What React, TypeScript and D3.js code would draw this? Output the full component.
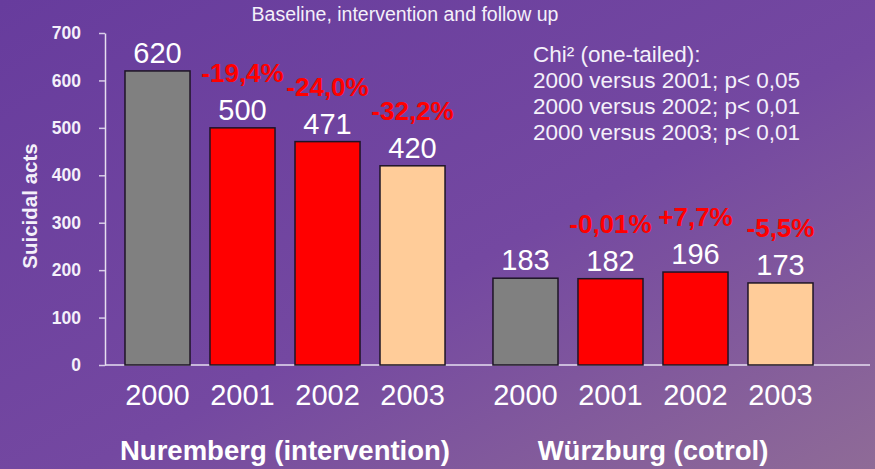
import React, { useEffect, useRef } from "react";
import * as d3 from "d3";

// data
const cities = ["Nuremberg (intervention)", "Würzburg (cotrol)"];
const years = ["2000", "2001", "2002", "2003"];
const nurembergValues = [620, 500, 471, 420];
const wurzburgValues = [183, 182, 196, 173];
const nurembergChange = ["", "-19,4%", "-24,0%", "-32,2%"];
const wurzburgChange = ["", "-0,01%", "+7,7%", "-5,5%"];
const yearColors = ["#808080", "#ff0000", "#ff0000", "#ffcc99"];
const yTicks = [0, 100, 200, 300, 400, 500, 600, 700];
const chiLines = [
  "Chi² (one-tailed):",
  "2000 versus 2001; p< 0,05",
  "2000 versus 2002; p< 0,01",
  "2000 versus 2003; p< 0,01",
];
const title = "Baseline, intervention and follow up";
const yTitle = "Suicidal acts";

const width = 875;
const height = 469;
const font = "Liberation Sans, Arial, sans-serif";

const App = () => {
  const ref = useRef<SVGSVGElement>(null);

  useEffect(() => {
    document.body.style.margin = "0";

    const svg = d3.select(ref.current);
    svg.selectAll("*").remove();

    // background gradient
    const defs = svg.append("defs");
    const grad = defs
      .append("linearGradient")
      .attr("id", "bg")
      .attr("x1", "0%")
      .attr("y1", "0%")
      .attr("x2", "100%")
      .attr("y2", "100%");
    grad.append("stop").attr("offset", "0%").attr("stop-color", "#673c9d");
    grad.append("stop").attr("offset", "55%").attr("stop-color", "#7448a1");
    grad.append("stop").attr("offset", "100%").attr("stop-color", "#8f6b97");
    svg
      .append("rect")
      .attr("width", width)
      .attr("height", height)
      .attr("fill", "url(#bg)");

    const y = d3.scaleLinear().domain([0, 700]).range([365, 33]);
    const xCity = d3.scaleBand().domain(cities).range([115, 823]).paddingInner(0.076);
    const xYear = d3
      .scaleBand()
      .domain(years)
      .range([0, xCity.bandwidth()])
      .paddingInner(0.235)
      .paddingOuter(0.1175);

    const rows = cities.flatMap((city, ci) =>
      years.map((year, yi) => ({
        city,
        year,
        color: yearColors[yi],
        value: ci === 0 ? nurembergValues[yi] : wurzburgValues[yi],
        change: ci === 0 ? nurembergChange[yi] : wurzburgChange[yi],
      }))
    );
    const cx = (d) => xCity(d.city) + xYear(d.year) + xYear.bandwidth() / 2;

    // title
    svg
      .append("text")
      .attr("x", 405)
      .attr("y", 21)
      .attr("text-anchor", "middle")
      .style("font-family", font)
      .style("font-size", "19.5px")
      .attr("fill", "#f4f0fa")
      .text(title);

    // y axis
    const yAxis = svg
      .append("g")
      .attr("transform", "translate(105,0)")
      .call(d3.axisLeft(y).tickValues(yTicks).tickSizeInner(6).tickSizeOuter(0).tickPadding(18));
    yAxis.select(".domain").attr("stroke", "#e6def0").attr("stroke-width", 1.5);
    yAxis.selectAll(".tick line").attr("stroke", "#d8cce8").attr("stroke-width", 1.5);
    yAxis
      .selectAll(".tick text")
      .attr("fill", "#f4f0fa")
      .style("font-family", font)
      .style("font-size", "17.5px")
      .style("font-weight", "bold");

    svg
      .append("text")
      .attr("transform", `translate(37,${206}) rotate(-90)`)
      .attr("text-anchor", "middle")
      .style("font-family", font)
      .style("font-size", "20.5px")
      .style("font-weight", "bold")
      .attr("fill", "#f4f0fa")
      .text(yTitle);

    // baseline
    svg
      .append("line")
      .attr("x1", 105)
      .attr("x2", 870)
      .attr("y1", y(0))
      .attr("y2", y(0))
      .attr("stroke", "#e6def0")
      .attr("stroke-width", 1.5);

    // bars
    svg
      .selectAll("rect.bar")
      .data(rows)
      .enter()
      .append("rect")
      .attr("class", "bar")
      .attr("x", (d) => xCity(d.city) + xYear(d.year))
      .attr("y", (d) => y(d.value))
      .attr("width", xYear.bandwidth())
      .attr("height", (d) => y(0) - y(d.value))
      .attr("fill", (d) => d.color)
      .attr("stroke", "#1e1426")
      .attr("stroke-width", 1.5);

    // value labels
    svg
      .selectAll("text.value")
      .data(rows)
      .enter()
      .append("text")
      .attr("class", "value")
      .attr("x", cx)
      .attr("y", (d) => y(d.value) - 8)
      .attr("text-anchor", "middle")
      .style("font-family", font)
      .style("font-size", "29px")
      .attr("fill", "#ffffff")
      .text((d) => d.value);

    // percent change labels
    svg
      .selectAll("text.change")
      .data(rows.filter((d) => d.change))
      .enter()
      .append("text")
      .attr("class", "change")
      .attr("x", cx)
      .attr("y", (d) => y(d.value) - 46)
      .attr("text-anchor", "middle")
      .style("font-family", font)
      .style("font-size", "26px")
      .style("font-weight", "bold")
      .attr("fill", "#ff0000")
      .text((d) => d.change);

    // year labels
    svg
      .selectAll("text.year")
      .data(rows)
      .enter()
      .append("text")
      .attr("class", "year")
      .attr("x", cx)
      .attr("y", 405)
      .attr("text-anchor", "middle")
      .style("font-family", font)
      .style("font-size", "29px")
      .attr("fill", "#ffffff")
      .text((d) => d.year);

    // city labels
    svg
      .selectAll("text.city")
      .data(cities)
      .enter()
      .append("text")
      .attr("class", "city")
      .attr("x", (d) => xCity(d) + xCity.bandwidth() / 2)
      .attr("y", 460)
      .attr("text-anchor", "middle")
      .style("font-family", font)
      .style("font-size", "27.5px")
      .style("font-weight", "bold")
      .attr("fill", "#ffffff")
      .text((d) => d);

    // chi-square note
    svg
      .append("text")
      .attr("x", 533)
      .attr("y", 62)
      .style("font-family", font)
      .style("font-size", "22.5px")
      .attr("fill", "#f4f0fa")
      .selectAll("tspan")
      .data(chiLines)
      .enter()
      .append("tspan")
      .attr("x", 533)
      .attr("dy", (d, i) => (i === 0 ? 0 : 26))
      .text((d) => d);
  }, []);

  return (
    <svg ref={ref} width={width} height={height} style={{ display: "block" }}></svg>
  );
};

export default App;
